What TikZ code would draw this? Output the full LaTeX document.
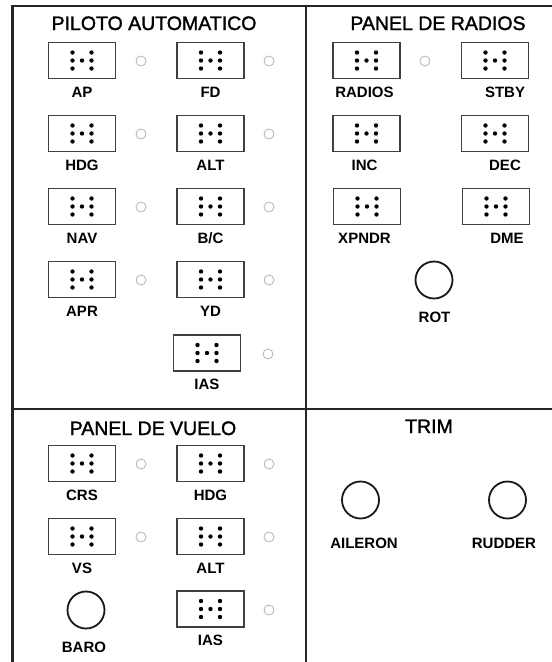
\documentclass[tikz,border=0pt]{standalone}
\usepackage{fontspec}
\setmainfont{Liberation Sans}
\newfontfamily\titulofont[FakeBold=1.5]{Liberation Sans}
\tikzset{
  marco/.style={line width=2.6pt, draw=black!85},
  boton/.style={draw=black!75, line width=1.3pt, minimum width=67pt, minimum height=36pt, inner sep=0pt},
  luz/.style={circle, draw=black!30, line width=0.8pt, minimum size=10pt, inner sep=0pt},
  perilla/.style={circle, draw=black!90, line width=1.8pt, minimum size=37pt, inner sep=0pt},
  titulo/.style={inner sep=0pt, text height=14pt, text depth=0pt, font=\titulofont\fontsize{19.5}{20}\selectfont},
  etiqueta/.style={inner sep=0pt, text height=10.7pt, text depth=0pt, font=\bfseries\fontsize{15}{16}\selectfont}
}
% puntos braille dentro de cada boton
\newcommand{\braille}[1]{%
  \foreach \dx/\dy in {-9.5/-8,-9.5/0,-9.5/8,0/0,9.5/-8,9.5/0,9.5/8}
    \fill[black] (#1) ++(\dx,\dy) circle (2.2pt);}
\begin{document}
\begin{tikzpicture}[x=1pt,y=-1pt]
  \useasboundingbox (0,0) rectangle (552,662);
  % marco y divisiones
  \draw[marco] (12.5,662) -- (12.5,6) -- (552,6);
  \draw[marco] (306,6) -- (306,662);
  \draw[marco] (12.5,409) -- (552,409);
  % titulos
  \node[titulo] (t-piloto) at (154,23) {PILOTO AUTOMATICO};
  \node[titulo] (t-radios) at (438,23) {PANEL DE RADIOS};
  \node[titulo] (t-vuelo) at (153,428) {PANEL DE VUELO};
  \node[titulo] (t-trim) at (429,426) {TRIM};
  % botones: nombre / x / y / x de etiqueta / texto
  \foreach \n/\x/\y/\lx/\t in {
      ap/82/60.5/82/AP, fd/210.5/60.5/210.5/FD,
      hdg/82/133.5/82/HDG, alt/210.5/133.5/210.5/ALT,
      nav/82/206.5/82/NAV, bc/210.5/206.5/210.5/{B/C},
      apr/82/279.5/82/APR, yd/210.5/279.5/210.5/YD,
      ias/207/353/207/IAS,
      radios/366.5/60.5/364.5/RADIOS, stby/495/60.5/505/STBY,
      inc/366.5/133.5/364.5/INC, dec/495/133.5/505/DEC,
      xpndr/367/206.5/364.5/XPNDR, dme/496/206.5/507/DME,
      crs/82/463.5/82/CRS, v-hdg/210.5/463.5/210.5/HDG,
      vs/82/536.5/82/VS, v-alt/210.5/536.5/210.5/ALT,
      v-ias/210.5/609/210.5/IAS} {
    \node[boton] (\n) at (\x,\y) {};
    \braille{\n}
    \node[etiqueta] (\n-l) at (\lx,\y+31.5) {\t};
  }
  % luces indicadoras
  \foreach \n/\x/\y in {ap/141/61, fd/269/61, hdg/141/134, alt/269/134,
      nav/141/207, bc/269/207, apr/141/280, yd/269/280, ias/268/354,
      radios/425/61, crs/141/464, v-hdg/269/464, vs/141/537,
      v-alt/269/537, v-ias/269/610}
    \node[luz] (luz-\n) at (\x,\y) {};
  % perillas
  \node[perilla] (rot) at (434,280) {};
  \node[etiqueta] (rot-l) at (434.5,317) {ROT};
  \node[perilla] (baro) at (86,610) {};
  \node[etiqueta] (baro-l) at (84,647) {BARO};
  \node[perilla] (aileron) at (360.5,500) {};
  \node[etiqueta] (aileron-l) at (364,543) {AILERON};
  \node[perilla] (rudder) at (507.5,500) {};
  \node[etiqueta] (rudder-l) at (504,543) {RUDDER};
\end{tikzpicture}
\end{document}
